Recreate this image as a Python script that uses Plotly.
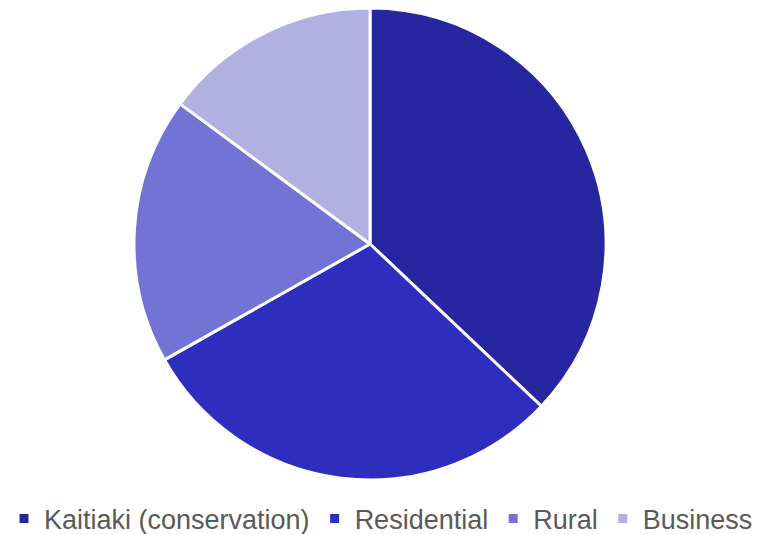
import plotly.graph_objects as go

labels = ["Kaitiaki (conservation)", "Residential", "Rural", "Business"]
values = [37.1, 29.8, 18.3, 14.9]
colors = ["#2626A0", "#2E2EBE", "#7373D6", "#B0B0E3"]

fig = go.Figure(go.Pie(
    labels=labels, values=values, sort=False, direction="clockwise", rotation=0,
    marker=dict(colors=colors, line=dict(color="white", width=3)),
    textinfo="none", hoverinfo="label+percent",
    domain=dict(x=[0, 724/759], y=[0, 1]),
))
fig.update_layout(
    width=759, height=526,
    margin=dict(l=0, r=0, t=0, b=54, autoexpand=False),
    paper_bgcolor="white", plot_bgcolor="white",
    font=dict(family="Liberation Sans, Arial", color="#595959", size=27),
    showlegend=True,
    legend=dict(orientation="h", x=373/759, xanchor="center", y=-39/472, yanchor="middle",
                font=dict(size=27, color="#595959"), itemwidth=30, tracegroupgap=0),
)
fig.write_html("out.html")
